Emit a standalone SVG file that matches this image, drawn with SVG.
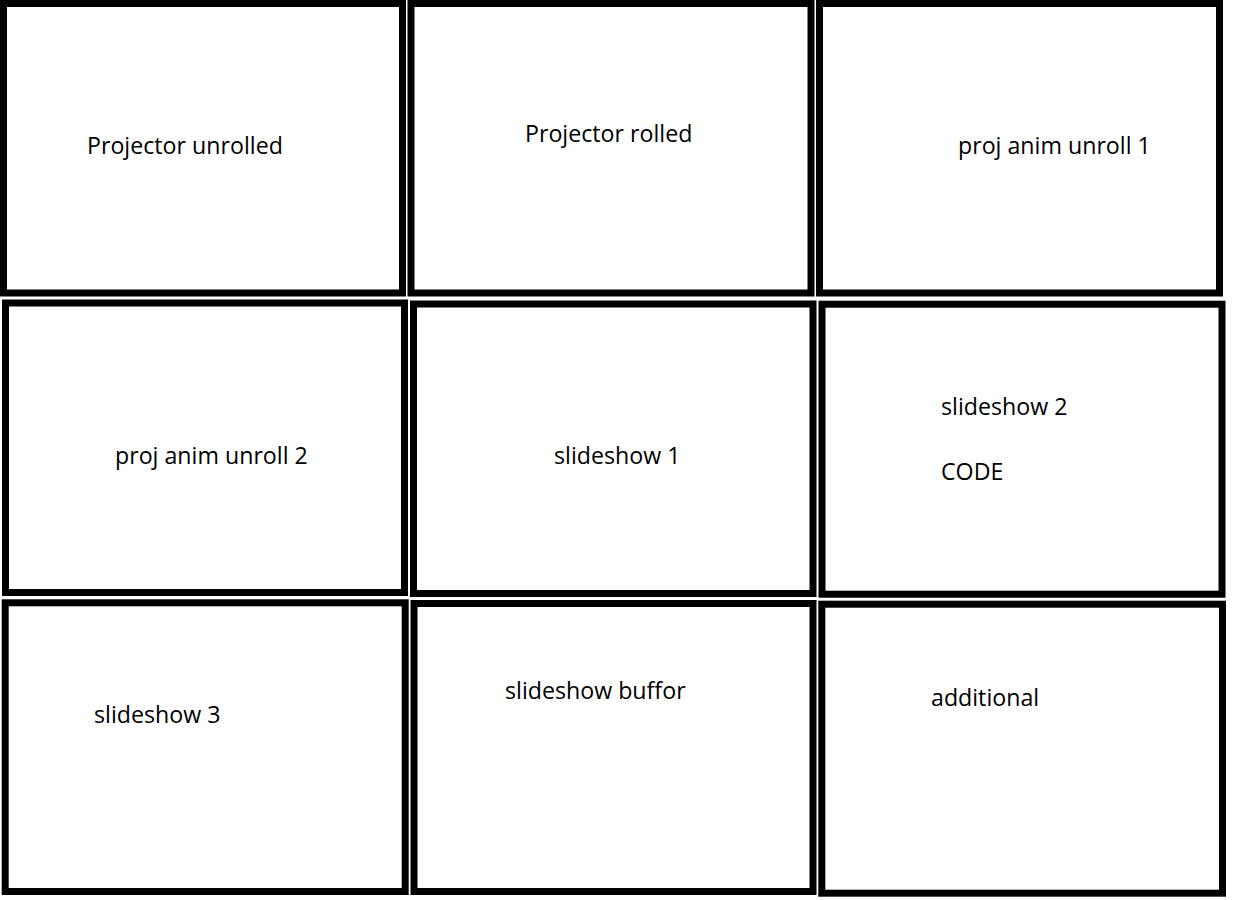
<svg xmlns="http://www.w3.org/2000/svg" width="1250" height="900" viewBox="0 0 1250 900">
<style>
.box{fill:#fff;stroke:#000;stroke-width:7}
.lbl{font-family:"Open Sans","Liberation Sans",Arial,sans-serif;font-size:23.2px;fill:#000}
</style>
<rect x="0" y="0" width="1250" height="900" fill="#fff"/>
<g id="node1"><rect class="box" x="3.5" y="3.5" width="399" height="289.5"/><text class="lbl" x="87" y="154">Projector unrolled</text></g>
<g id="node2"><rect class="box" x="411" y="3.5" width="400" height="289.5"/><text class="lbl" x="525" y="142">Projector rolled</text></g>
<g id="node3"><rect class="box" x="819.5" y="3.5" width="400" height="289.5"/><text class="lbl" x="958" y="154">proj anim unroll 1</text></g>
<g id="node4"><rect class="box" x="5.5" y="303" width="399" height="289.5"/><text class="lbl" x="115" y="464">proj anim unroll 2</text></g>
<g id="node5"><rect class="box" x="413.5" y="304" width="399.5" height="289.5"/><text class="lbl" x="554" y="464">slideshow 1</text></g>
<g id="node6"><rect class="box" x="822" y="304.2" width="400" height="290"/><text class="lbl" x="941" y="415">slideshow 2</text><text class="lbl" x="941" y="480">CODE</text></g>
<g id="node7"><rect class="box" x="5.2" y="602.8" width="400" height="288.7"/><text class="lbl" x="94" y="723">slideshow 3</text></g>
<g id="node8"><rect class="box" x="414" y="603.5" width="399" height="288"/><text class="lbl" x="505" y="699">slideshow buffor</text></g>
<g id="node9"><rect class="box" x="821.8" y="604.2" width="400.7" height="289"/><text class="lbl" x="931" y="706">additional</text></g>
<g id="connectors"></g>
</svg>
